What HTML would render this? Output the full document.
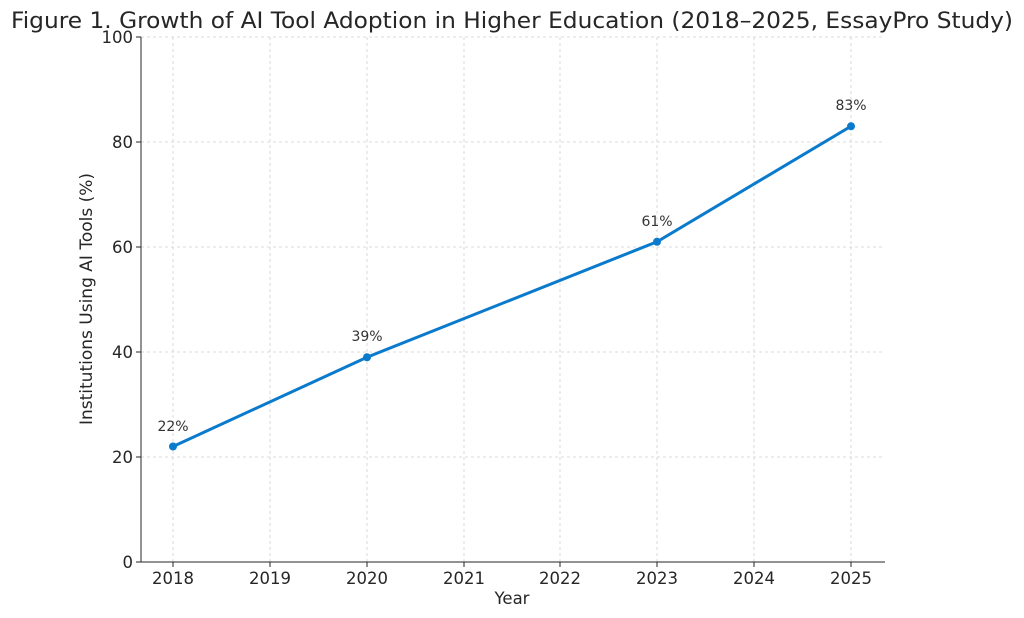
<!DOCTYPE html>
<html><head><meta charset="utf-8"><style>
body{margin:0;background:#fff;}
svg{display:block;font-family:"DejaVu Sans",sans-serif;}
</style></head><body>
<svg width="1024" height="618" xmlns="http://www.w3.org/2000/svg">
<rect width="1024" height="618" fill="#fff"/>
<text x="512" y="28" font-size="22" text-anchor="middle" fill="#262626" textLength="1002" lengthAdjust="spacingAndGlyphs">Figure 1. Growth of AI Tool Adoption in Higher Education (2018–2025, EssayPro Study)</text>
<g stroke="#d0d0d0" stroke-width="0.8" stroke-dasharray="3,3">
<line x1="173" y1="37" x2="173" y2="562"/><line x1="270" y1="37" x2="270" y2="562"/><line x1="367" y1="37" x2="367" y2="562"/><line x1="464" y1="37" x2="464" y2="562"/><line x1="560" y1="37" x2="560" y2="562"/><line x1="657" y1="37" x2="657" y2="562"/><line x1="754" y1="37" x2="754" y2="562"/><line x1="851" y1="37" x2="851" y2="562"/>
<line x1="141" y1="457" x2="885" y2="457"/><line x1="141" y1="352" x2="885" y2="352"/><line x1="141" y1="247" x2="885" y2="247"/><line x1="141" y1="142" x2="885" y2="142"/><line x1="141" y1="37" x2="885" y2="37"/>
</g>
<g stroke="#262626" stroke-width="1">
<line x1="141" y1="37" x2="141" y2="562"/><line x1="141" y1="562" x2="885" y2="562"/>
<line x1="136" y1="562" x2="141" y2="562"/><line x1="136" y1="457" x2="141" y2="457"/><line x1="136" y1="352" x2="141" y2="352"/><line x1="136" y1="247" x2="141" y2="247"/><line x1="136" y1="142" x2="141" y2="142"/><line x1="136" y1="37" x2="141" y2="37"/>
<line x1="173" y1="562" x2="173" y2="567"/><line x1="270" y1="562" x2="270" y2="567"/><line x1="367" y1="562" x2="367" y2="567"/><line x1="464" y1="562" x2="464" y2="567"/><line x1="560" y1="562" x2="560" y2="567"/><line x1="657" y1="562" x2="657" y2="567"/><line x1="754" y1="562" x2="754" y2="567"/><line x1="851" y1="562" x2="851" y2="567"/>
</g>
<g font-size="16.5" fill="#262626" text-anchor="end">
<text x="133" y="568">0</text><text x="133" y="463">20</text><text x="133" y="358">40</text><text x="133" y="253">60</text><text x="133" y="148">80</text><text x="133" y="43">100</text>
</g>
<g font-size="16.5" fill="#262626" text-anchor="middle">
<text x="173" y="584">2018</text><text x="270" y="584">2019</text><text x="367" y="584">2020</text><text x="464" y="584">2021</text><text x="560" y="584">2022</text><text x="657" y="584">2023</text><text x="754" y="584">2024</text><text x="851" y="584">2025</text>
<text x="512" y="604">Year</text>
</g>
<text transform="translate(92,299) rotate(-90)" font-size="17" fill="#262626" text-anchor="middle">Institutions Using AI Tools (%)</text>
<polyline points="173,446.5 367,357.25 657,241.75 851,126.25" fill="none" stroke="#0a7acc" stroke-width="3"/>
<g fill="#0a7acc"><circle cx="173" cy="446.5" r="4"/><circle cx="367" cy="357.25" r="4"/><circle cx="657" cy="241.75" r="4"/><circle cx="851" cy="126.25" r="4"/></g>
<g font-size="14" fill="#333" text-anchor="middle">
<text x="173" y="431">22%</text><text x="367" y="341">39%</text><text x="657" y="226">61%</text><text x="851" y="110">83%</text>
</g>
</svg>
</body></html>
